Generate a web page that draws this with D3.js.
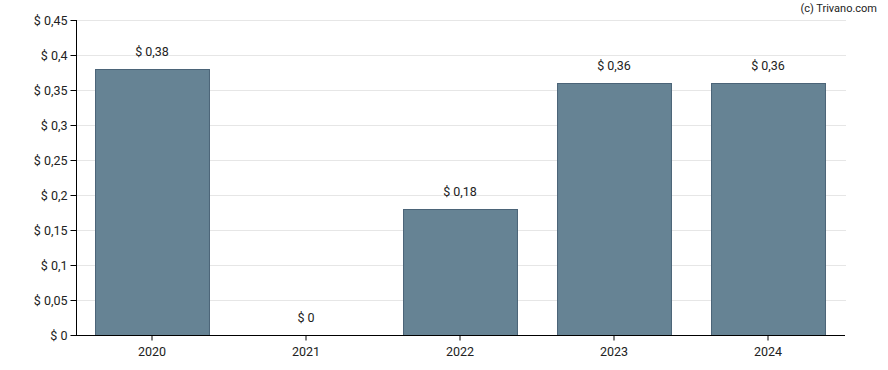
<!DOCTYPE html>
<html><head><meta charset="utf-8">
<script src="https://cdn.jsdelivr.net/npm/d3@7"></script>
<style>body{margin:0;background:#fff;}svg{display:block;font-family:Roboto,sans-serif;}</style>
</head><body>
<svg id="c" width="888" height="370"></svg>
<script>
const categories = ["2020","2021","2022","2023","2024"];
const values = [0.38, 0, 0.18, 0.36, 0.36];
const yTicks = [0,0.05,0.1,0.15,0.2,0.25,0.3,0.35,0.4,0.45];

const fmt = v => "$ " + String(+v.toFixed(2)).replace(".", ",");
const svg = d3.select("#c");
const m = {l:76, r:42, t:20, b:35};
const W = 888, H = 370;
const x = d3.scaleBand().domain(categories).range([m.l, W-m.r]).paddingInner(0.26).paddingOuter(0.13);
const y = d3.scaleLinear().domain([0,0.45]).range([H-m.b, m.t]);

svg.append("g").selectAll("line").data(yTicks.slice(1)).join("line")
  .attr("x1", m.l).attr("x2", W-m.r).attr("y1", d=>y(d)+0.5).attr("y2", d=>y(d)+0.5)
  .attr("stroke", "#e6e6e6");

svg.append("g").selectAll("rect").data(values).join("rect")
  .attr("x", (d,i)=>x(categories[i])-0.5).attr("width", x.bandwidth())
  .attr("y", d=>y(d)+0.5).attr("height", d=>y(0)-y(d))
  .attr("fill", "#668394").attr("stroke", "#4b6478").attr("stroke-width", 1);

svg.append("g").selectAll("text").data(values).join("text")
  .attr("x", (d,i)=>x(categories[i])+x.bandwidth()/2-1).attr("y", d=>y(d)-13)
  .attr("text-anchor","middle").attr("font-size", 12.5).attr("fill","#222").text(d=>fmt(d));

const ya = d3.axisLeft(y).tickValues(yTicks).tickSize(6).tickFormat(fmt);
const yg = svg.append("g").attr("transform", `translate(${m.l+0.5},0)`).call(ya);
yg.selectAll("text").attr("font-size", 12.5).attr("fill","#222").attr("font-family","Roboto,sans-serif");
yg.selectAll("line,path").attr("stroke","#000");
yg.select(".domain").attr("d", `M0,${m.t}V${H-m.b+0.5}`);

const xa = d3.axisBottom(x).tickSize(5);
const xg = svg.append("g").attr("transform", `translate(-1,${H-m.b+0.5})`).call(xa);
xg.selectAll("text").attr("font-size", 12.5).attr("fill","#222").attr("dy","1.0em").attr("font-family","Roboto,sans-serif");
xg.selectAll("line,path").attr("stroke","#000");
xg.select(".domain").attr("d", `M${m.l+1},0H${W-m.r}`);

svg.append("text").attr("x", 877).attr("y", 12).attr("text-anchor","end")
  .attr("font-size", 11).attr("fill","#222").text("(c) Trivano.com");
</script>
</body></html>
